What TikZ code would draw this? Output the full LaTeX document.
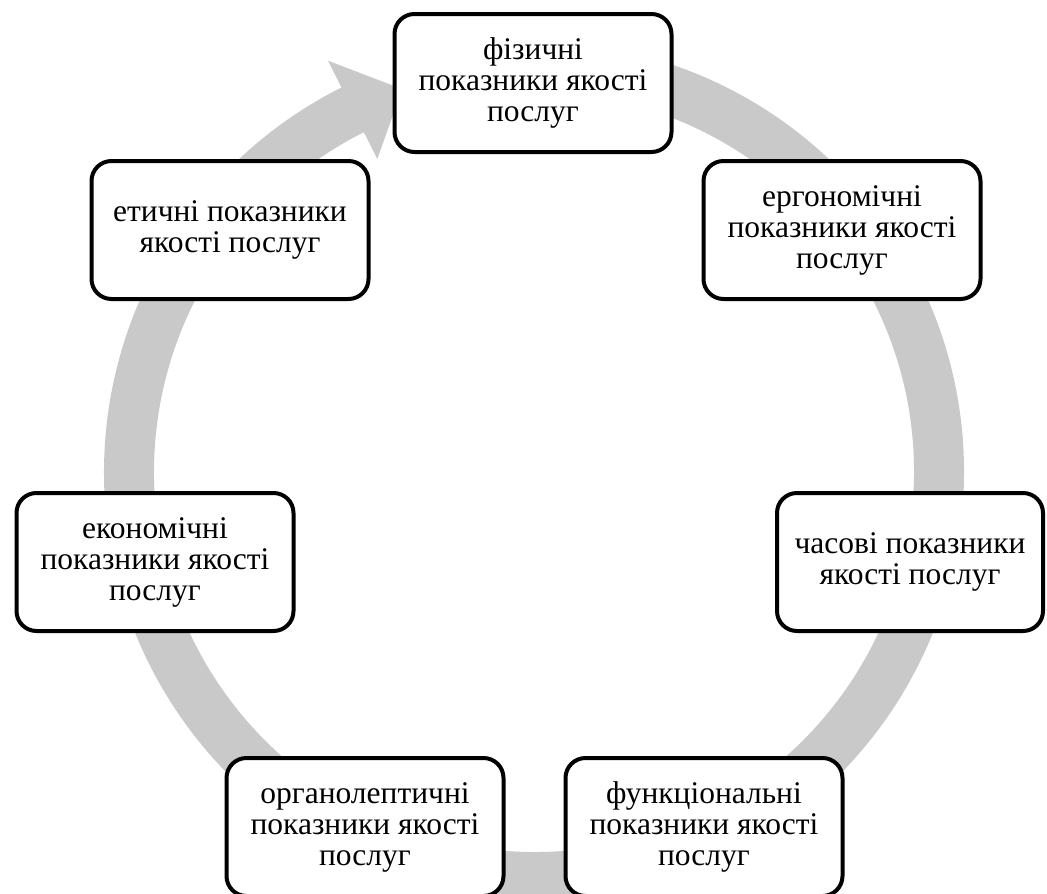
\documentclass[tikz,border=0pt]{standalone}
\usepackage{fontspec}
\setmainfont{Liberation Serif}
\usetikzlibrary{calc}
\definecolor{ringgray}{RGB}{201,201,201}
\tikzstyle{ind}=[rectangle, rounded corners=20pt, line width=4pt, draw=black, fill=white, minimum width=277pt, minimum height=138pt, inner sep=0pt, align=center, font=\fontsize{31.5}{31}\selectfont, anchor=center]
\tikzstyle{ring}=[draw=ringgray, line width=50pt]

\begin{document}
\begin{tikzpicture}[x=1pt, y=-1pt]
	\useasboundingbox (0,0) rectangle (1047,894);
	\coordinate (c) at (534,472);

	% circular arrow behind the boxes
	\draw[ring] ($(c)+(-85:405)$) arc[start angle=-85, end angle=244, radius=405];
	\fill[ringgray] ($(c)+(-116.6:460)$) -- ($(c)+(-109:405)$) -- ($(c)+(-116.6:350)$) -- cycle;

	\node[ind] (fiz) at (533,83) {фізичні\\показники якості\\послуг};
	\node[ind] (erg) at (842,230) {ергономічні\\показники якості\\послуг};
	\node[ind, minimum width=266pt] (chas) at (910,562) {часові показники\\якості послуг};
	\node[ind] (funk) at (704,827) {функціональні\\показники якості\\послуг};
	\node[ind] (org) at (365,827) {органолептичні\\показники якості\\послуг};
	\node[ind] (ekon) at (155,562) {економічні\\показники якості\\послуг};
	\node[ind] (etych) at (230,230) {етичні показники\\якості послуг};
\end{tikzpicture}
\end{document}
